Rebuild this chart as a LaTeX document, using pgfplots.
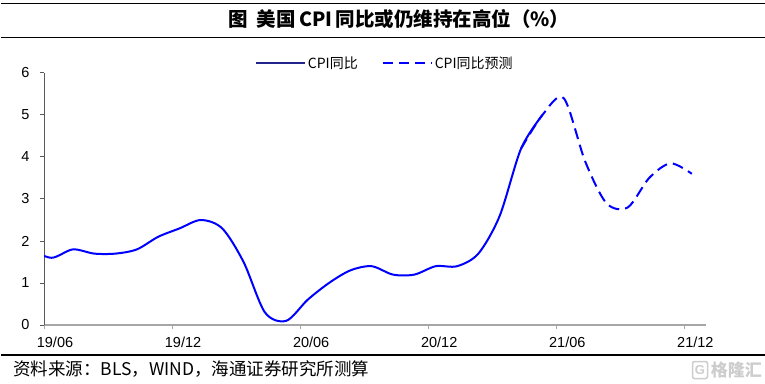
\documentclass[border=0pt]{standalone}
\usepackage{pgfplots}
\pgfplotsset{compat=1.18}
\usepackage{fontspec}
\setmainfont{Liberation Sans}
\newfontfamily\cjk{Noto Sans CJK SC}
\definecolor{lineblue}{RGB}{0,0,255}
\definecolor{navyleg}{RGB}{35,35,140}
\definecolor{yax}{RGB}{89,89,89}
\definecolor{xax}{RGB}{166,166,166}
\definecolor{wm}{RGB}{205,205,205}
\begin{document}
\begin{tikzpicture}[x=1pt,y=1pt]
\useasboundingbox (0,0) rectangle (765,383);
\draw[line width=1.2pt] (1,379.7) -- (765,379.7);
\draw[line width=1.2pt] (1,345.3) -- (765,345.3);
\node[font=\cjk\bfseries\fontsize{19.5}{22}\selectfont] at (399,364) {图\ \ 美国\,CPI\,同比或仍维持在高位（\%）};
\draw[line width=1.2pt] (1,28) -- (765,28);
\node[anchor=west, inner sep=0pt, font=\cjk\fontsize{17.5}{20}\selectfont] at (13,14) {资料来源：BLS，WIND，海通证券研究所测算};
\node[anchor=east, inner sep=0pt, text=wm, font=\cjk\bfseries\fontsize{17}{19}\selectfont] at (762,13) {格隆汇};
\node[draw=wm, line width=1.5pt, rounded corners=2pt, minimum width=15pt, minimum height=17pt, inner sep=0pt, text=wm, font=\bfseries\fontsize{13}{15}\selectfont] at (700,13) {G};
\begin{axis}[
  at={(44pt,58pt)}, anchor=south west, scale only axis,
  width=661.7pt, height=252pt,
  xmin=0, xmax=31, ymin=0, ymax=6,
  axis x line*=bottom, axis y line*=left,
  x axis line style={xax, line width=1.2pt},
  y axis line style={yax, line width=1pt},
  xtick={0,6,12,18,24,30},
  xticklabels={19/06,19/12,20/06,20/12,21/06,21/12},
  ytick={0,1,2,3,4,5,6},
  tick align=outside,
  major tick length=4pt,
  x tick style={xax, line width=1pt},
  y tick style={yax, line width=1pt},
  /pgf/number format/assume math mode=true,
  tick label style={font=\fontsize{14.5}{16}\selectfont},
  xticklabel style={xshift=11pt, yshift=-4pt},
  yticklabel style={xshift=-7pt},
  clip mode=individual,
  legend columns=2,
  legend style={at={(rel axis cs:0.515,1.0385)}, anchor=center, draw=none, fill=none,
    font=\cjk\fontsize{14}{16}\selectfont,
    /tikz/every even column/.append style={column sep=22pt}},
  legend image code/.code={\draw[#1] (0pt,0pt) -- (49pt,0pt);},
]
\addlegendimage{navyleg, line width=2pt}
\addlegendentry{CPI同比}
\addlegendimage{lineblue, line width=2pt, dash pattern=on 10pt off 6pt}
\addlegendentry{CPI同比预测}
\addplot[forget plot, lineblue, line width=2pt, smooth, tension=0.5] coordinates {
(-0.65,1.8) (0.35,1.6) (1.35,1.8) (2.35,1.7) (3.35,1.7) (4.35,1.8) (5.35,2.1) (6.35,2.3)
(7.35,2.5) (8.35,2.3) (9.35,1.5) (10.35,0.3) (11.35,0.1) (12.35,0.6) (13.35,1.0)
(14.35,1.3) (15.35,1.4) (16.35,1.2) (17.35,1.2) (18.35,1.4) (19.35,1.4) (20.35,1.7)
(21.35,2.6) (22.35,4.2) (23.35,5.0)
};
\addplot[forget plot, lineblue, line width=2pt, dash pattern=on 11pt off 6pt, smooth, tension=0.5] coordinates {
(22.35,4.2) (23.35,5.0) (24.35,5.4) (25.35,3.9) (26.35,2.9) (27.35,2.8) (28.35,3.5) (29.35,3.85) (30.35,3.6)
};
\end{axis}
\end{tikzpicture}
\end{document}
